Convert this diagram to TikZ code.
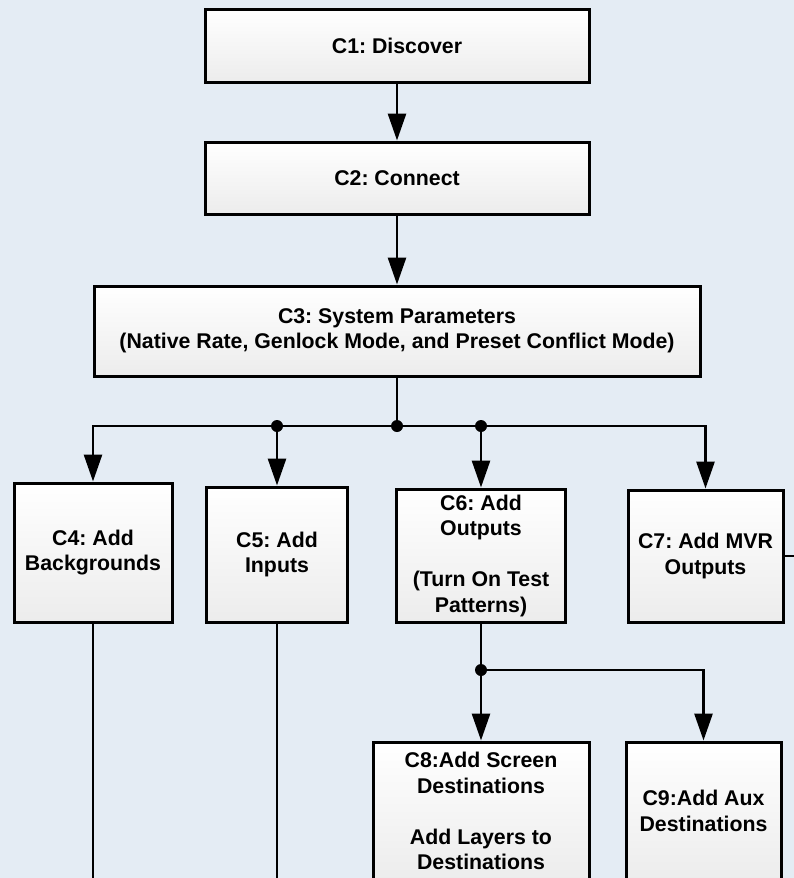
\documentclass[tikz,border=0pt]{standalone}
\usepackage{fontspec}
\setmainfont{Liberation Sans}
\usetikzlibrary{arrows.meta}
\definecolor{bgcol}{RGB}{228,236,244}
\definecolor{boxbot}{RGB}{236,236,236}
\frenchspacing
\tikzset{
  stepbox/.style={draw=black, line width=3pt, top color=white, bottom color=boxbot,
    inner sep=0pt, align=center, font=\bfseries\frenchspacing\fontsize{21.3}{25.5}\selectfont},
  conn/.style={line width=2.8pt, draw=black},
  arr/.style={conn, -{Triangle[length=27pt,width=18pt]}},
  jdot/.style={circle, fill=black, inner sep=0pt, minimum size=12pt}
}
\begin{document}
\begin{tikzpicture}[x=1pt,y=-1pt]
\useasboundingbox (0,0) rectangle (794,878);
\fill[bgcol] (0,0) rectangle (794,878);
\clip (0,0) rectangle (794,878);

\node[stepbox, minimum width=384pt, minimum height=73pt] (C1) at (397,45.5) {C1: Discover};
\node[stepbox, minimum width=384pt, minimum height=72pt] (C2) at (397,178) {C2: Connect};
\node[stepbox, minimum width=606pt, minimum height=90pt] (C3) at (397,331)
  {C3: System Parameters\\(Native Rate, Genlock Mode, and Preset Conflict Mode)};
\node[stepbox, minimum width=158pt, minimum height=139pt] (C4) at (93,552.5) {C4: Add\\Backgrounds};
\node[stepbox, minimum width=141pt, minimum height=135pt] (C5) at (277,554.5) {C5: Add\\Inputs};
\node[stepbox, minimum width=169pt, minimum height=133pt] (C6) at (481,555.5)
  {C6: Add\\Outputs\\[25.5pt](Turn On Test\\Patterns)};
\node[stepbox, minimum width=155pt, minimum height=132pt] (C7) at (705.5,556) {C7: Add MVR\\Outputs};
\node[stepbox, minimum width=216pt, minimum height=138pt] (C8) at (481,811)
  {C8:Add Screen\\Destinations\\[25.5pt]Add Layers to\\Destinations};
\node[stepbox, minimum width=155pt, minimum height=138pt] (C9) at (703.5,811) {C9:Add Aux\\Destinations};

\coordinate (j0) at (397,426);
\coordinate (j1) at (277,426);
\coordinate (j2) at (481,426);
\coordinate (k0) at (481,670);
\coordinate (e4) at (93,900);
\coordinate (e5) at (277,900);
\coordinate (e7) at (810,556);

\draw[arr] (C1.south) -- (C2.north);
\draw[arr] (C2.south) -- (C3.north);
\draw[conn] (C3.south) -- (j0);
\draw[arr] (j0) -| (C4.north);
\draw[arr] (j0) -| (C7.north);
\draw[arr] (j1) -- (C5.north);
\draw[arr] (j2) -- (C6.north);
\draw[conn] (C6.south) -- (k0);
\draw[arr] (k0) -- (C8.north);
\draw[arr] (k0) -| (C9.north);
\draw[conn] (C4.south) -- (e4);
\draw[conn] (C5.south) -- (e5);
\draw[conn] (C7.east) -- (e7);

\node[jdot] (d0) at (j0) {};
\node[jdot] (d1) at (j1) {};
\node[jdot] (d2) at (j2) {};
\node[jdot] (d3) at (k0) {};
\end{tikzpicture}
\end{document}
